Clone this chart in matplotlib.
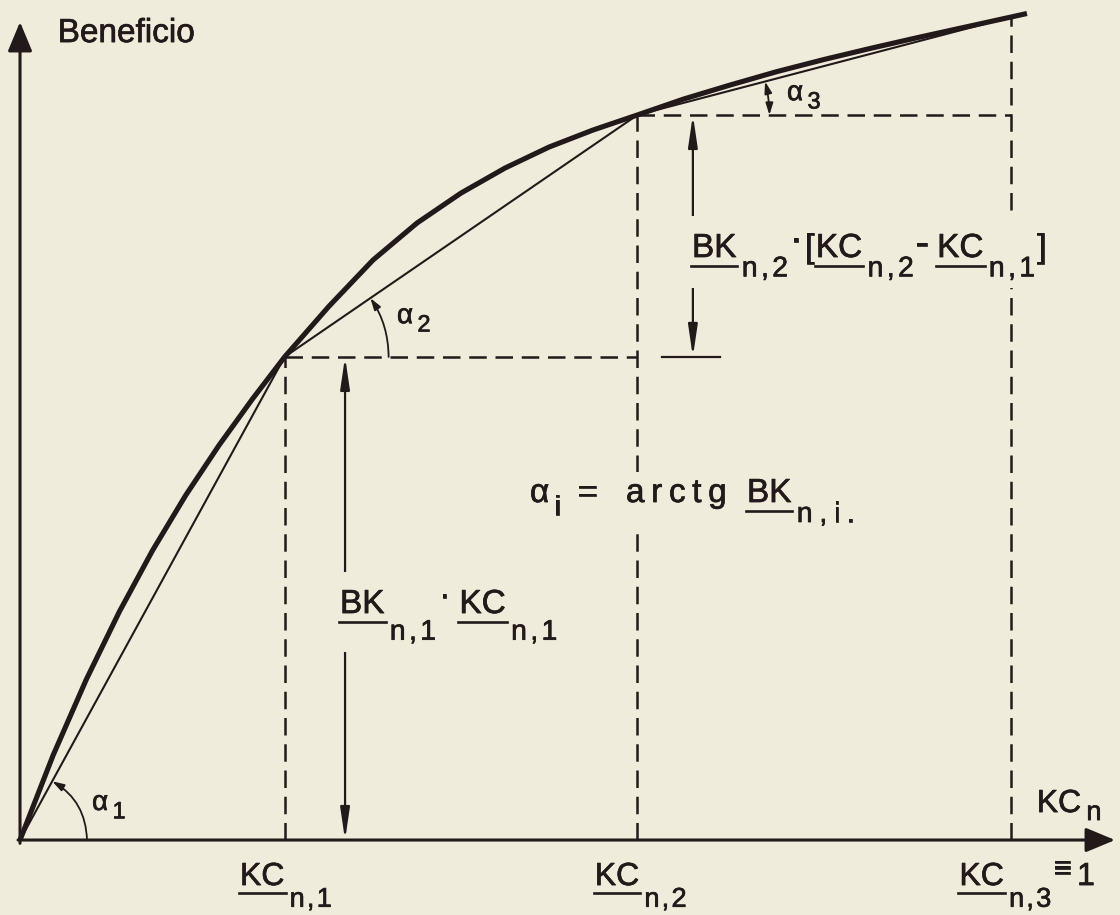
import numpy as np
import matplotlib
matplotlib.use("Agg")
import matplotlib.pyplot as plt
import matplotlib.patheffects as pe
from matplotlib.transforms import IdentityTransform, Bbox
from matplotlib.lines import Line2D
from matplotlib.patches import Rectangle

plt.rcParams['font.family'] = ['Liberation Sans', 'DejaVu Sans']

# benefit curve (KC on x, benefit on y, both normalised to 1 at the last step)
curve_kc = [0.0, 0.0334, 0.0669, 0.1003, 0.1337, 0.1671, 0.2006, 0.2340, 0.267,
            0.3118, 0.3562, 0.4006, 0.4450, 0.4894, 0.5338, 0.5782, 0.623,
            0.6698, 0.7169, 0.7641, 0.8113, 0.8585, 0.9057, 0.9528, 1.0, 1.0161]
curve_bk = [0.0, 0.1030, 0.1951, 0.2776, 0.3518, 0.4187, 0.4793, 0.5350, 0.587,
            0.6486, 0.7047, 0.7497, 0.7861, 0.8165, 0.8420, 0.8627, 0.881,
            0.9004, 0.9175, 0.9338, 0.9484, 0.9620, 0.9750, 0.9875, 1.0, 1.0043]

# piecewise linear approximation (steps n,1 n,2 n,3)
chord_kc = [0.0, 0.267, 0.623, 1.0]
chord_bk = [0.0, 0.587, 0.881, 1.0]

step_subs = ['n,1', 'n,2', 'n,3']
angle_subs = ['1', '2', '3']
angle_radius = [67, 104, 132]   # pixels

bg = '#f0ecdb'
ink = '#221a1a'

fig = plt.figure(figsize=(11.2, 9.15), dpi=100, facecolor=bg)
ax = fig.add_axes([0, 0, 1, 1])
ax.set_xlim(-0.0202, 1.110)
ax.set_ylim(-0.0911, 1.0207)
ax.set_facecolor(bg)
ax.axis('off')

ident = IdentityTransform()
renderer = fig.canvas.get_renderer()
heavy = [pe.withStroke(linewidth=0.5, foreground=ink)]


def put(s, x, y, fs):
    t = ax.text(x, y, s, fontsize=fs, color=ink, transform=ident, ha='left',
                va='baseline', zorder=8, path_effects=heavy)
    return t.get_window_extent(renderer)


def put_run(s, x, y, fs, track):
    boxes = []
    for ch in s:
        bb = put(ch, x, y, fs)
        boxes.append(bb)
        x = bb.x1 + track
    return Bbox.union(boxes)


def rich_text(x, y, parts, size, drop=0.7, track=0.08, mask=False):
    """Lay out a label piece by piece from baseline (x, y) in data units.

    kinds: 'n' normal, 'u' underlined, 't' letter spaced, 's' subscript,
    'h' raised operator sign, 'g' gap (text = width in em).
    """
    px, py = ax.transData.transform((x, y))
    em = size * fig.dpi / 72.0
    cur = px
    boxes = []
    for part in parts:
        s, kind = part[0], part[1]
        off = part[2] if len(part) > 2 else None
        if kind == 'g':
            cur += float(s) * em
            continue
        if kind == 's':
            cur += 0.1 * em
            yy = py - (drop if off is None else off) * em
            bb = put_run(s, cur, yy, size * 0.85, track * em)
        elif kind == 't':
            bb = put_run(s, cur, py, size, track * em)
        elif kind == 'h':
            bb = put(s, cur, py + (0.15 if off is None else off) * em, size * 1.15)
        else:
            bb = put(s, cur, py + (off or 0) * em, size)
        if kind == 'u':
            uy = py - 0.26 * em
            ax.add_line(Line2D([bb.x0 - 1, bb.x1 + 1], [uy, uy], transform=ident,
                               color=ink, lw=1.9, zorder=8))
        boxes.append(bb)
        cur = bb.x1 + 0.06 * em
    if mask:
        u = Bbox.union(boxes)
        ax.add_patch(Rectangle((u.x0 - 5, u.y0 - 6), u.width + 10, u.height + 12,
                               transform=ident, facecolor=bg, edgecolor='none',
                               zorder=7))


# axes with arrows
axis_arrow = dict(arrowstyle='-|>,head_length=1.8,head_width=0.75',
                  lw=2.2, color=ink, shrinkA=0, shrinkB=0)
ax.annotate('', xy=(0, 0.994), xytext=(0, -0.004), arrowprops=axis_arrow)
ax.annotate('', xy=(1.105, 0), xytext=(-0.002, 0), arrowprops=axis_arrow)
rich_text(0.038, 0.9696, [('Beneficio', 'n')], 24)
rich_text(1.026, 0.034, [('KC', 'n'), ('n', 's', 0.25)], 23)

# curve and chords
ax.plot(curve_kc, curve_bk, color=ink, lw=3.7, solid_capstyle='butt',
        solid_joinstyle='round', zorder=4)
ax.plot(chord_kc, chord_bk, color=ink, lw=1.5, zorder=4)

# dashed construction lines
dash = dict(color=ink, lw=1.8, ls=(0, (7, 3.5)), zorder=3)
for i in range(1, 4):
    ax.plot([chord_kc[i], chord_kc[i]], [0, chord_bk[i]], **dash)
for i in range(1, 3):
    ax.plot([chord_kc[i], chord_kc[i + 1]], [chord_bk[i], chord_bk[i]], **dash)

# step labels under the axis
label_x = [0.222, 0.580, 0.948]
for i, x in enumerate(label_x):
    parts = [('KC', 'u'), (step_subs[i], 's')]
    if i == 2:
        parts += [('≡', 'n', 0.22), ('0.1', 'g'), ('1', 'n')]
    rich_text(x, -0.0547, parts, 23, drop=0.68, track=0.07)

# dimension arrows
dim = dict(arrowstyle='<|-|>,head_length=1.9,head_width=0.28',
           lw=1.6, color=ink, shrinkA=0, shrinkB=0)
ax.annotate('', xy=(0.328, chord_bk[1]), xytext=(0.328, 0.0), arrowprops=dim)
ax.annotate('', xy=(0.679, chord_bk[2]), xytext=(0.679, chord_bk[1]),
            arrowprops=dim)
ax.plot([0.648, 0.706], [chord_bk[1], chord_bk[1]], color=ink, lw=1.6)

rich_text(0.3229, 0.2758,
          [('BK', 'u'), ('n,1', 's'), ('·', 'h', 0.2), ('0.2', 'g'),
           ('KC', 'u'), ('n,1', 's')],
          24, drop=0.8, track=0.1, mask=True)
rich_text(0.6781, 0.7084,
          [('BK', 'u'), ('n,2', 's'), ('·', 'h', 0.2), ('[', 'n'),
           ('KC', 'u'), ('n,2', 's'), ('-', 'h', 0.08), ('0.2', 'g'),
           ('KC', 'u'), ('n,1', 's'), (']', 'n')],
          24, drop=0.58, track=0.1, mask=True)
rich_text(0.5146, 0.4107,
          [('α', 'n'), ('i', 's', 0.4), ('0.45', 'g'), ('=', 'n'), ('0.8', 'g'),
           ('arctg', 't'), ('0.55', 'g'), ('BK', 'u'), ('n,i.', 's', 0.6)],
          24, track=0.2, mask=True)

# angle arcs at each step
inv = ax.transData.inverted()
for i in range(3):
    c = ax.transData.transform((chord_kc[i], chord_bk[i]))
    nxt = ax.transData.transform((chord_kc[i + 1], chord_bk[i + 1]))
    d = nxt - c
    ang = np.arctan2(d[1], d[0])
    r = angle_radius[i]
    a = inv.transform(c + r * np.array([1.0, 0.0]))
    b = inv.transform(c + r * np.array([np.cos(ang), np.sin(ang)]))
    style = '<|-|>' if i == 2 else '-|>'
    ax.annotate('', xy=b, xytext=a,
                arrowprops=dict(arrowstyle=style + ',head_length=0.7,head_width=0.22',
                                connectionstyle='arc3,rad=%.3f' % np.tan(ang / 4),
                                lw=1.3, color=ink, shrinkA=0, shrinkB=0))

angle_pos = [(0.0727, 0.0365), (0.3804, 0.628), (0.774, 0.899)]
for (x, y), s in zip(angle_pos, angle_subs):
    rich_text(x, y, [('α', 'n'), (s, 's')], 20, drop=0.3)

fig.savefig('out.png', dpi=100, facecolor=bg)
